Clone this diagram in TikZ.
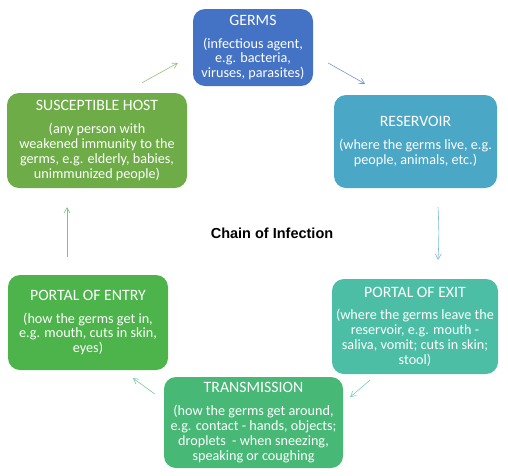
\documentclass[tikz,border=0pt]{standalone}
\usepackage{fontspec}
\setmainfont{Carlito}
\newfontfamily\headfont{Liberation Sans}
\usetikzlibrary{arrows.meta}
\definecolor{germscol}{RGB}{68,114,196}
\definecolor{reservoircol}{RGB}{75,167,198}
\definecolor{exitcol}{RGB}{75,190,165}
\definecolor{transcol}{RGB}{71,184,118}
\definecolor{entrycol}{RGB}{76,180,74}
\definecolor{hostcol}{RGB}{110,172,72}
\tikzset{
stage/.style={fill=#1, rounded corners=12pt, text=white, align=center, inner sep=0pt, font=\fontsize{14.2}{14.8}\selectfont},
link/.style={draw=#1!75, line width=0.6pt, -{Straight Barb[angle=60:6pt]}}
}
\newcommand{\stagehead}[1]{{\fontsize{15.8}{15}\selectfont #1}\\[8pt]}
\begin{document}
\begin{tikzpicture}[x=1pt,y=-1pt]
\useasboundingbox (0,0) rectangle (508,475);
\node[stage=germscol, minimum width=120pt, minimum height=77pt] (germs) at (253,47.5)
{\stagehead{GERMS}(infectious agent,\\e.g. bacteria,\\viruses, parasites)};
\node[stage=reservoircol, minimum width=163pt, minimum height=93pt] (reservoir) at (415.5,141.5)
{\stagehead{RESERVOIR}(where the germs live, e.g.\\people, animals, etc.)};
\node[stage=exitcol, minimum width=166pt, minimum height=95pt] (exit) at (415,326.5)
{\stagehead{PORTAL OF EXIT}(where the germs leave the\\reservoir, e.g. mouth -\\saliva, vomit; cuts in skin;\\stool)};
\node[stage=transcol, minimum width=179pt, minimum height=91pt] (trans) at (253.5,422.5)
{\stagehead{TRANSMISSION}(how the germs get around,\\e.g. contact - hands, objects;\\droplets~ - when sneezing,\\speaking or coughing};
\node[stage=entrycol, minimum width=160pt, minimum height=95pt] (entry) at (88,322.5)
{\stagehead{PORTAL OF ENTRY}(how the germs get in,\\e.g. mouth, cuts in skin,\\eyes)};
\node[stage=hostcol, minimum width=180pt, minimum height=95pt] (host) at (97,140.5)
{\stagehead{SUSCEPTIBLE HOST}(any person with\\weakened immunity to the\\germs, e.g. elderly, babies,\\unimmunized people)};
\node[font=\headfont\bfseries\fontsize{14.5}{17}\selectfont] (chain) at (272,233) {Chain of Infection};
\draw[link=hostcol] ([xshift=45pt,yshift=10pt]host.north) -- ([xshift=-15pt,yshift=-15.5pt]germs.west);
\draw[link=germscol] ([xshift=15pt,yshift=-15.5pt]germs.east) -- ([xshift=-50.5pt,yshift=11pt]reservoir.north);
\draw[link=reservoircol] ([xshift=22.5pt,yshift=-19pt]reservoir.south) to[bend left=3] ([xshift=23pt,yshift=19pt]exit.north);
\draw[link=exitcol] ([xshift=-45pt,yshift=-6pt]exit.south) -- ([xshift=7pt,yshift=25.5pt]trans.east);
\draw[link=transcol] ([xshift=-9pt,yshift=28.5pt]trans.west) -- ([xshift=45pt,yshift=-8pt]entry.south);
\draw[link=entrycol] ([xshift=-21pt,yshift=18pt]entry.north) -- ([xshift=-30pt,yshift=-19pt]host.south);
\end{tikzpicture}
\end{document}
